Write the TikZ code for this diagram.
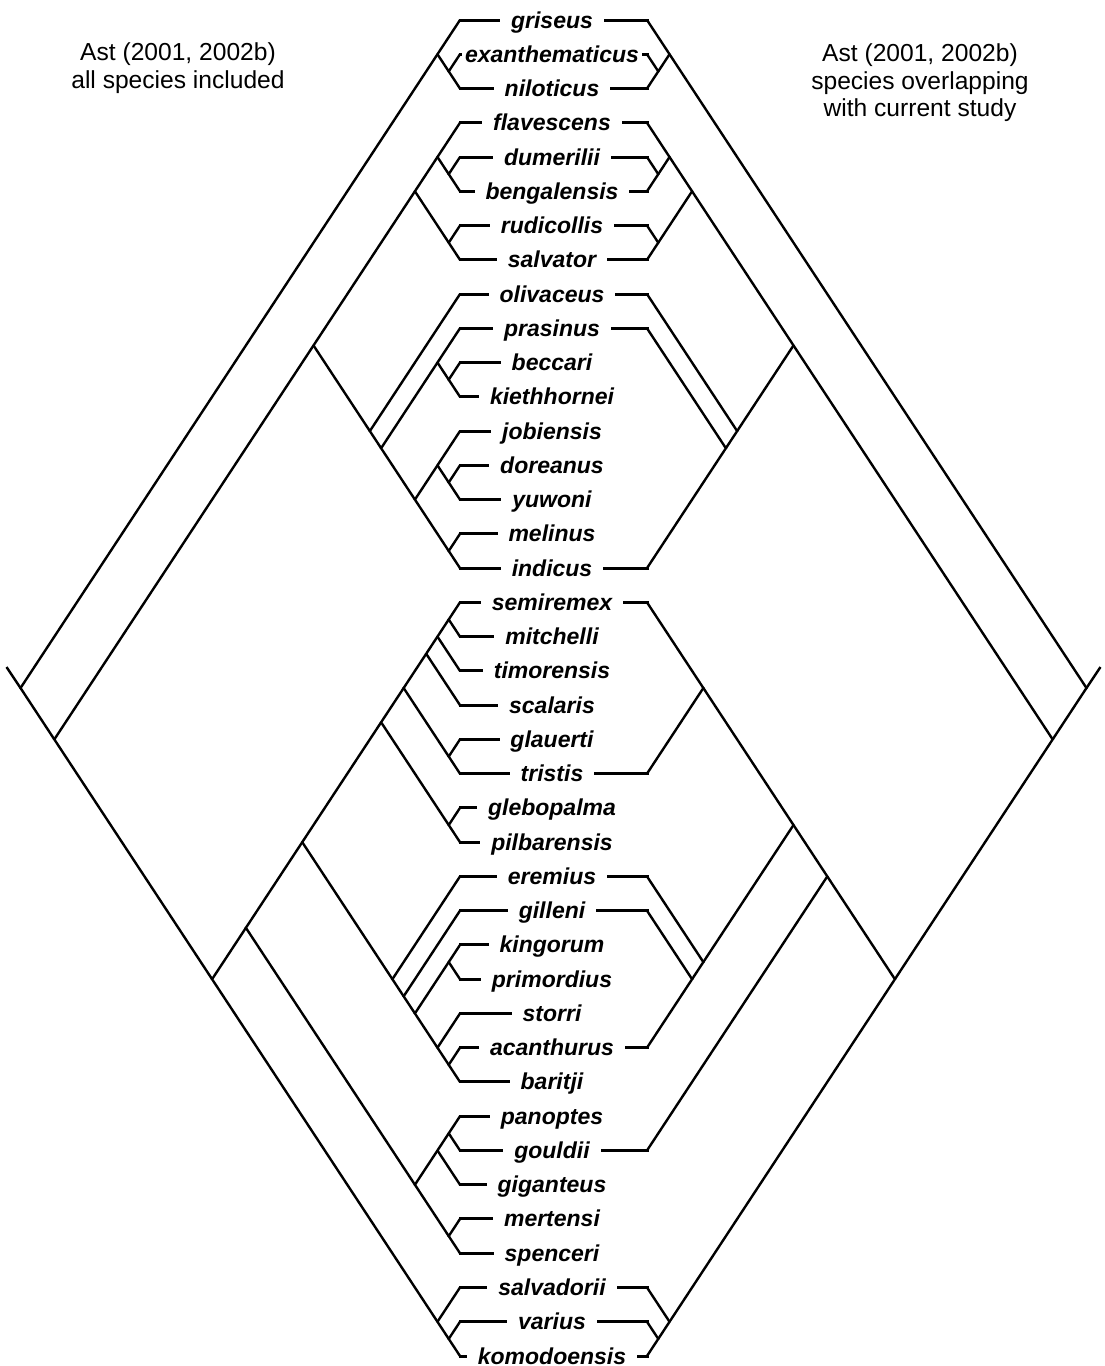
\documentclass[tikz,border=0pt]{standalone}
\usepackage{fontspec}
\setmainfont{Liberation Sans}
\usepackage{tikz}
\usetikzlibrary{calc}

\tikzstyle{taxon} = [font=\bfseries\itshape\fontsize{11.5}{14}\selectfont, inner xsep=6pt, inner ysep=0pt, anchor=base]
\tikzstyle{heading} = [font=\fontsize{12.3}{13.8}\selectfont, align=center]
\tikzstyle{branch} = [line width=1.2pt]
\tikzstyle{stub} = [line width=1.5pt, line cap=rect]

% clade nodes: top tip #2, bottom tip #3 (rows of 34.26px, branch slope 1.52)
\newcommand{\lclade}[3]{\coordinate (#1) at ({460-11.2685*(#3-#2)},{20+17.1282*(#3+#2)});}
\newcommand{\rclade}[3]{\coordinate (#1) at ({647+11.2685*(#3-#2)},{20+17.1282*(#3+#2)});}

\begin{document}
\begin{tikzpicture}[x=0.5pt, y=-0.5pt]
  \useasboundingbox (0,0) rectangle (1104,1366);

  % Headings
  \node (lhead) [heading] at (178,68) {Ast (2001, 2002b)\\all species included};
  \node (rhead) [heading] at (920,83) {Ast (2001, 2002b)\\species overlapping\\with current study};

  % Species column and left stubs
  \foreach \name/\i in {griseus/0, niloticus/2, flavescens/3, dumerilii/4, bengalensis/5,
      rudicollis/6, salvator/7, olivaceus/8, prasinus/9, beccari/10, kiethhornei/11,
      jobiensis/12, doreanus/13, yuwoni/14, melinus/15, indicus/16, semiremex/17,
      mitchelli/18, timorensis/19, scalaris/20, glauerti/21, tristis/22, glebopalma/23,
      pilbarensis/24, eremius/25, gilleni/26, kingorum/27, primordius/28, storri/29,
      acanthurus/30, baritji/31, panoptes/32, gouldii/33, giganteus/34, mertensi/35,
      spenceri/36, salvadorii/37, varius/38, komodoensis/39}{
    \coordinate (l-\name) at (460,{20+34.2564*\i});
    \coordinate (r-\name) at (647,{20+34.2564*\i});
    \node (\name) [taxon] at (552,{28+34.2564*\i}) {\name};
    \draw[stub] (l-\name) -- (l-\name -| \name.west);
  }
  % exanthematicus nearly fills the gap
  \coordinate (l-exanthematicus) at (460,54.26);
  \coordinate (r-exanthematicus) at (647,54.26);
  \node (exanthematicus) [taxon, inner xsep=2pt] at (552,62.26) {exanthematicus};
  \draw[stub] (l-exanthematicus) -- (l-exanthematicus -| exanthematicus.west);

  % Right stubs: species overlapping with current study
  \foreach \name in {griseus, exanthematicus, niloticus, flavescens, dumerilii, bengalensis,
      rudicollis, salvator, olivaceus, prasinus, indicus, semiremex, tristis, eremius,
      gilleni, acanthurus, gouldii, salvadorii, varius, komodoensis}
    \draw[stub] (r-\name -| \name.east) -- (r-\name);

  % Left tree
  \lclade{l-root}{0}{39}
  \lclade{l-gri}{0}{2}
  \lclade{l-exa}{1}{2}
  \lclade{l-fla-kom}{3}{39}
  \lclade{l-fla-ind}{3}{16}
  \lclade{l-fla-sal}{3}{7}
  \lclade{l-fla-ben}{3}{5}
  \lclade{l-dum}{4}{5}
  \lclade{l-rud}{6}{7}
  \lclade{l-oli-ind}{8}{16}
  \lclade{l-pra-ind}{9}{16}
  \lclade{l-pra-kie}{9}{11}
  \lclade{l-bec}{10}{11}
  \lclade{l-job-ind}{12}{16}
  \lclade{l-job-yuw}{12}{14}
  \lclade{l-dor}{13}{14}
  \lclade{l-mel}{15}{16}
  \lclade{l-sem-kom}{17}{39}
  \lclade{l-sem-spe}{17}{36}
  \lclade{l-sem-bar}{17}{31}
  \lclade{l-sem-pil}{17}{24}
  \lclade{l-sem-tri}{17}{22}
  \lclade{l-sem-sca}{17}{20}
  \lclade{l-sem-tim}{17}{19}
  \lclade{l-sem}{17}{18}
  \lclade{l-gla}{21}{22}
  \lclade{l-gle}{23}{24}
  \lclade{l-ere-bar}{25}{31}
  \lclade{l-gil-bar}{26}{31}
  \lclade{l-kin-bar}{27}{31}
  \lclade{l-kin}{27}{28}
  \lclade{l-sto-bar}{29}{31}
  \lclade{l-aca}{30}{31}
  \lclade{l-pan-spe}{32}{36}
  \lclade{l-pan-gig}{32}{34}
  \lclade{l-pan}{32}{33}
  \lclade{l-mer}{35}{36}
  \lclade{l-sav-kom}{37}{39}
  \lclade{l-var}{38}{39}
  \coordinate (l-base) at ($(l-root)+(-14,-21)$);

  \draw[branch] (l-base) -- (l-root);
  \draw[branch] (l-gri) -- (l-root) -- (l-fla-kom);
  \draw[branch] (l-griseus) -- (l-gri) -- (l-exa);
  \draw[branch] (l-exanthematicus) -- (l-exa) -- (l-niloticus);
  \draw[branch] (l-fla-ind) -- (l-fla-kom) -- (l-sem-kom);
  \draw[branch] (l-fla-sal) -- (l-fla-ind) -- (l-oli-ind);
  \draw[branch] (l-fla-ben) -- (l-fla-sal) -- (l-rud);
  \draw[branch] (l-flavescens) -- (l-fla-ben) -- (l-dum);
  \draw[branch] (l-dumerilii) -- (l-dum) -- (l-bengalensis);
  \draw[branch] (l-rudicollis) -- (l-rud) -- (l-salvator);
  \draw[branch] (l-olivaceus) -- (l-oli-ind) -- (l-pra-ind);
  \draw[branch] (l-pra-kie) -- (l-pra-ind) -- (l-job-ind);
  \draw[branch] (l-prasinus) -- (l-pra-kie) -- (l-bec);
  \draw[branch] (l-beccari) -- (l-bec) -- (l-kiethhornei);
  \draw[branch] (l-job-yuw) -- (l-job-ind) -- (l-mel);
  \draw[branch] (l-jobiensis) -- (l-job-yuw) -- (l-dor);
  \draw[branch] (l-doreanus) -- (l-dor) -- (l-yuwoni);
  \draw[branch] (l-melinus) -- (l-mel) -- (l-indicus);
  \draw[branch] (l-sem-spe) -- (l-sem-kom) -- (l-sav-kom);
  \draw[branch] (l-sem-bar) -- (l-sem-spe) -- (l-pan-spe);
  \draw[branch] (l-sem-pil) -- (l-sem-bar) -- (l-ere-bar);
  \draw[branch] (l-sem-tri) -- (l-sem-pil) -- (l-gle);
  \draw[branch] (l-sem-sca) -- (l-sem-tri) -- (l-gla);
  \draw[branch] (l-sem-tim) -- (l-sem-sca) -- (l-scalaris);
  \draw[branch] (l-sem) -- (l-sem-tim) -- (l-timorensis);
  \draw[branch] (l-semiremex) -- (l-sem) -- (l-mitchelli);
  \draw[branch] (l-glauerti) -- (l-gla) -- (l-tristis);
  \draw[branch] (l-glebopalma) -- (l-gle) -- (l-pilbarensis);
  \draw[branch] (l-eremius) -- (l-ere-bar) -- (l-gil-bar);
  \draw[branch] (l-gilleni) -- (l-gil-bar) -- (l-kin-bar);
  \draw[branch] (l-kin) -- (l-kin-bar) -- (l-sto-bar);
  \draw[branch] (l-kingorum) -- (l-kin) -- (l-primordius);
  \draw[branch] (l-storri) -- (l-sto-bar) -- (l-aca);
  \draw[branch] (l-acanthurus) -- (l-aca) -- (l-baritji);
  \draw[branch] (l-pan-gig) -- (l-pan-spe) -- (l-mer);
  \draw[branch] (l-pan) -- (l-pan-gig) -- (l-giganteus);
  \draw[branch] (l-panoptes) -- (l-pan) -- (l-gouldii);
  \draw[branch] (l-mertensi) -- (l-mer) -- (l-spenceri);
  \draw[branch] (l-salvadorii) -- (l-sav-kom) -- (l-var);
  \draw[branch] (l-varius) -- (l-var) -- (l-komodoensis);

  % Right tree
  \rclade{r-root}{0}{39}
  \rclade{r-gri}{0}{2}
  \rclade{r-exa}{1}{2}
  \rclade{r-fla-kom}{3}{39}
  \rclade{r-fla-ind}{3}{16}
  \rclade{r-fla-sal}{3}{7}
  \rclade{r-fla-ben}{3}{5}
  \rclade{r-dum}{4}{5}
  \rclade{r-rud}{6}{7}
  \rclade{r-oli-ind}{8}{16}
  \rclade{r-pra-ind}{9}{16}
  \rclade{r-sem-kom}{17}{39}
  \rclade{r-sem-gou}{17}{33}
  \rclade{r-sem-aca}{17}{30}
  \rclade{r-sem-tri}{17}{22}
  \rclade{r-ere-aca}{25}{30}
  \rclade{r-gil-aca}{26}{30}
  \rclade{r-sav-kom}{37}{39}
  \rclade{r-var}{38}{39}
  \coordinate (r-base) at ($(r-root)+(14,-21)$);

  \draw[branch] (r-base) -- (r-root);
  \draw[branch] (r-gri) -- (r-root) -- (r-fla-kom);
  \draw[branch] (r-griseus) -- (r-gri) -- (r-exa);
  \draw[branch] (r-exanthematicus) -- (r-exa) -- (r-niloticus);
  \draw[branch] (r-fla-ind) -- (r-fla-kom) -- (r-sem-kom);
  \draw[branch] (r-fla-sal) -- (r-fla-ind) -- (r-oli-ind);
  \draw[branch] (r-fla-ben) -- (r-fla-sal) -- (r-rud);
  \draw[branch] (r-flavescens) -- (r-fla-ben) -- (r-dum);
  \draw[branch] (r-dumerilii) -- (r-dum) -- (r-bengalensis);
  \draw[branch] (r-rudicollis) -- (r-rud) -- (r-salvator);
  \draw[branch] (r-olivaceus) -- (r-oli-ind) -- (r-pra-ind);
  \draw[branch] (r-prasinus) -- (r-pra-ind) -- (r-indicus);
  \draw[branch] (r-sem-gou) -- (r-sem-kom) -- (r-sav-kom);
  \draw[branch] (r-sem-aca) -- (r-sem-gou) -- (r-gouldii);
  \draw[branch] (r-sem-tri) -- (r-sem-aca) -- (r-ere-aca);
  \draw[branch] (r-semiremex) -- (r-sem-tri) -- (r-tristis);
  \draw[branch] (r-eremius) -- (r-ere-aca) -- (r-gil-aca);
  \draw[branch] (r-gilleni) -- (r-gil-aca) -- (r-acanthurus);
  \draw[branch] (r-salvadorii) -- (r-sav-kom) -- (r-var);
  \draw[branch] (r-varius) -- (r-var) -- (r-komodoensis);
\end{tikzpicture}
\end{document}
